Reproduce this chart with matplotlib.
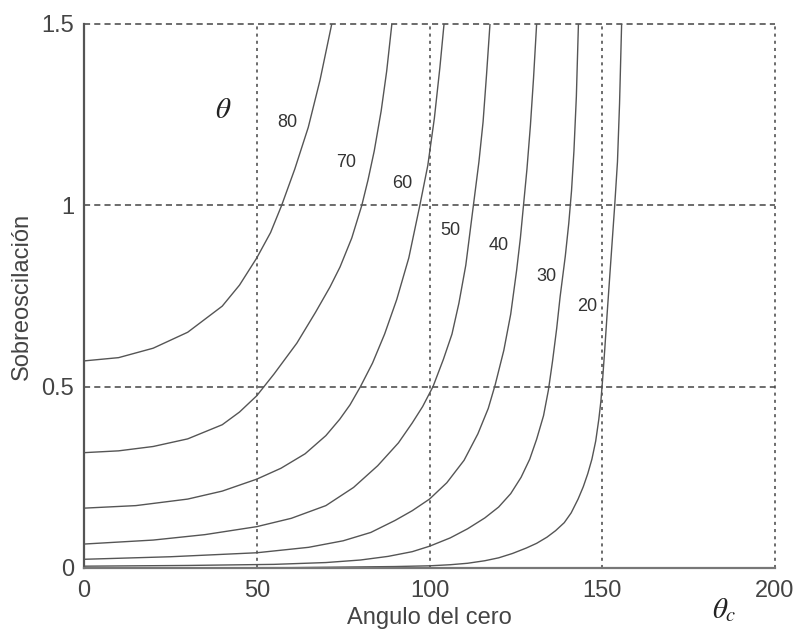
import matplotlib.pyplot as plt

plt.rcParams['font.family'] = ['Liberation Sans', 'DejaVu Sans']
plt.rcParams['mathtext.fontset'] = 'stix'

# pole angle (deg) of each curve
theta = [80, 70, 60, 50, 40, 30, 20]

# zero angle (deg) and overshoot, one pair per curve
zero_80 = [0, 10, 20, 30, 40, 45, 50, 54, 57.2, 61, 64.9, 68.3, 71.7]
os_80 = [0.571, 0.580, 0.606, 0.650, 0.722, 0.78, 0.855, 0.925, 1.0, 1.1, 1.215, 1.345, 1.5]

zero_70 = [0, 10, 20, 30, 40, 45, 50, 55, 61.6, 67, 71.2, 74.1, 77.5, 80.4, 82.2, 84, 86, 87.6, 89.1]
os_70 = [0.318, 0.323, 0.335, 0.356, 0.395, 0.43, 0.475, 0.535, 0.62, 0.705, 0.775, 0.83, 0.91, 1.0, 1.07,
         1.15, 1.26, 1.37, 1.5]

zero_60 = [0, 15, 30, 40, 50, 57, 64, 70, 74, 77, 80, 83.5, 87, 90.5, 94, 97.2, 99.5, 101.4, 103, 104.2]
os_60 = [0.165, 0.172, 0.19, 0.212, 0.245, 0.275, 0.315, 0.365, 0.41, 0.45, 0.5, 0.565, 0.645, 0.74, 0.855,
         1.0, 1.11, 1.24, 1.38, 1.5]

zero_50 = [0, 20, 35, 50, 60, 70, 78, 85, 91, 95, 98, 101, 104, 106.5, 108.5, 110.5, 112.7, 114.3, 115.5,
           116.5, 117.5]
os_50 = [0.066, 0.077, 0.092, 0.114, 0.137, 0.172, 0.222, 0.282, 0.345, 0.4, 0.445, 0.5, 0.575, 0.645, 0.73,
         0.835, 1.0, 1.12, 1.23, 1.36, 1.5]

zero_40 = [0, 25, 50, 65, 75, 83, 90, 95, 100, 105, 110, 114, 117, 119, 121.5, 123.5, 125.2, 126.3, 127.2,
           128.2, 129.2, 130.1, 131]
os_40 = [0.024, 0.031, 0.042, 0.057, 0.075, 0.098, 0.131, 0.158, 0.19, 0.235, 0.297, 0.37, 0.44, 0.505, 0.6,
         0.7, 0.82, 0.91, 1.0, 1.1, 1.22, 1.35, 1.5]

zero_30 = [0, 30, 55, 70, 80, 88, 95, 100, 106, 111, 116, 120, 123.5, 126.5, 129, 131, 133, 134.4, 135.6,
           136.8, 137.8, 139.3, 140.3, 141.1, 141.8, 142.5, 143.1]
os_30 = [0.005, 0.007, 0.01, 0.015, 0.022, 0.032, 0.045, 0.06, 0.083, 0.108, 0.138, 0.168, 0.205, 0.25, 0.3,
         0.355, 0.42, 0.49, 0.57, 0.66, 0.748, 0.86, 0.95, 1.04, 1.15, 1.3, 1.5]

zero_20 = [0, 60, 90, 100, 106, 111, 116, 120, 124, 128, 131, 134, 136.5, 139, 141, 143, 144.5, 145.8, 147,
           148.1, 149, 149.6, 150.1, 150.7, 151.4, 152.5, 153.6, 154.4, 155, 155.6]
os_20 = [0.0, 0.001, 0.004, 0.006, 0.009, 0.013, 0.02, 0.028, 0.04, 0.055, 0.068, 0.085, 0.103, 0.125, 0.152,
         0.19, 0.224, 0.26, 0.3, 0.35, 0.41, 0.46, 0.52, 0.6, 0.7, 0.85, 1.0, 1.12, 1.28, 1.5]

curves = [(zero_80, os_80), (zero_70, os_70), (zero_60, os_60), (zero_50, os_50),
          (zero_40, os_40), (zero_30, os_30), (zero_20, os_20)]

xticks = [0, 50, 100, 150, 200]
yticks = [0, 0.5, 1, 1.5]
xtick_labels = ['0', '50', '100', '150', '200']
ytick_labels = ['0', '0.5', '1', '1.5']

# where the curve labels sit (left of each curve)
label_pos = [(58.7, 1.229), (76, 1.118), (92, 1.061), (105.9, 0.93),
             (119.9, 0.888), (133.9, 0.803), (145.5, 0.722)]

fig = plt.figure(figsize=(7.98, 6.33), dpi=100)
ax = fig.add_axes([0.1053, 0.1027, 0.8659, 0.8594])

ax.set_xlim(0, 200)
ax.set_ylim(0, 1.5)

# matlab style dotted grid, drawn by hand so the edge lines show fully
for y in yticks[1:]:
    ax.axhline(y, color='#444444', lw=1.1, dashes=(4, 2.7), clip_on=False, zorder=1)
for x in xticks[1:]:
    ax.axvline(x, color='#444444', lw=1.1, dashes=(2, 2.7), clip_on=False, zorder=1)

for xs, ys in curves:
    ax.plot(xs, ys, color='#555555', lw=1.0, zorder=2)

for t, (lx, ly) in zip(theta, label_pos):
    ax.text(lx, ly, str(t), fontsize=13, color='#333333', ha='center', va='center')

ax.text(40.2, 1.263, r'$\theta$', fontsize=21, color='#222222', ha='center', va='center')
ax.text(185.2, -0.116, r'$\theta_c$', fontsize=21, color='#222222', ha='center', va='center',
        clip_on=False)

ax.spines['top'].set_visible(False)
ax.spines['right'].set_visible(False)
ax.spines['left'].set_color('#555555')
ax.spines['bottom'].set_color('#777777')
ax.spines['left'].set_linewidth(1.6)
ax.spines['bottom'].set_linewidth(1.6)

ax.set_xticks(xticks)
ax.set_xticklabels(xtick_labels)
ax.set_yticks(yticks)
ax.set_yticklabels(ytick_labels)
ax.tick_params(length=0, labelsize=17, labelcolor='#444444')
ax.tick_params(axis='x', pad=9)
ax.tick_params(axis='y', pad=7)

ax.set_xlabel('Angulo del cero', fontsize=17, color='#444444')
ax.set_ylabel('Sobreoscilación', fontsize=17, color='#444444', va='center')
ax.xaxis.set_label_coords(0.5, -0.072)
ax.yaxis.set_label_coords(-0.09, 0.5)

fig.savefig('out.png', dpi=100)
